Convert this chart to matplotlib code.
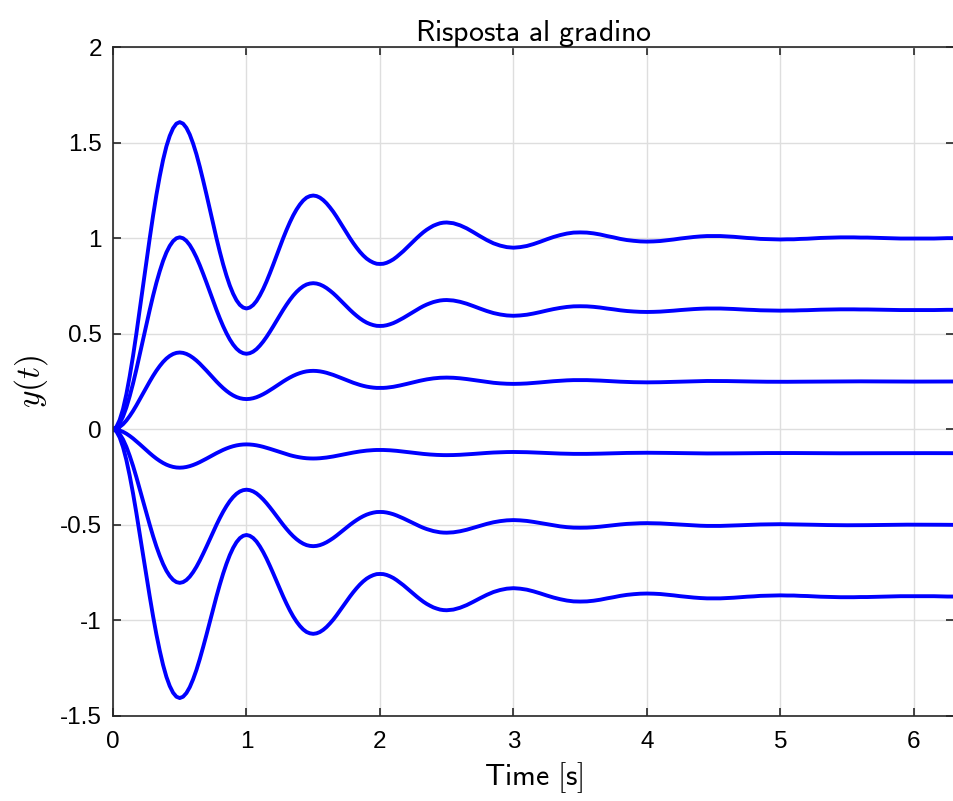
import numpy as np
import matplotlib
matplotlib.use("Agg")
import matplotlib.pyplot as plt

# Base (unit final value) step response.
# First part sampled every 0.025 s (0 .. 2.5 s), the rest every 0.05 s (2.55 .. 6.3 s).
fine_step = 0.025
fine_response = [
    0.000, 0.012, 0.049, 0.106, 0.183, 0.277, 0.383, 0.500, 0.623, 0.750,
    0.876, 0.999, 1.117, 1.226, 1.323, 1.409, 1.480, 1.535, 1.575, 1.599,
    1.607, 1.599, 1.577, 1.542, 1.495, 1.439, 1.374, 1.303, 1.229, 1.152,
    1.075, 1.000, 0.929, 0.863, 0.804, 0.752, 0.709, 0.675, 0.651, 0.637,
    0.632, 0.637, 0.650, 0.671, 0.700, 0.734, 0.773, 0.816, 0.861, 0.908,
    0.954, 1.000, 1.043, 1.083, 1.119, 1.150, 1.176, 1.197, 1.212, 1.220,
    1.223, 1.220, 1.212, 1.199, 1.182, 1.161, 1.138, 1.112, 1.084, 1.056,
    1.028, 1.000, 0.974, 0.950, 0.928, 0.909, 0.893, 0.881, 0.872, 0.866,
    0.865, 0.866, 0.871, 0.879, 0.889, 0.902, 0.917, 0.932, 0.949, 0.966,
    0.983, 1.000, 1.016, 1.031, 1.044, 1.055, 1.065, 1.072, 1.078, 1.081,
    1.082,
]
coarse_step = 0.05
coarse_response = [
    1.078, 1.067, 1.051, 1.031, 1.010, 0.990, 0.973, 0.961, 0.953,
    0.950, 0.953, 0.959, 0.969, 0.981, 0.994, 1.006, 1.016, 1.024, 1.029,
    1.030, 1.029, 1.025, 1.019, 1.011, 1.004, 0.996, 0.990, 0.986, 0.983,
    0.982, 0.983, 0.985, 0.989, 0.993, 0.998, 1.002, 1.006, 1.009, 1.011,
    1.011, 1.011, 1.009, 1.007, 1.004, 1.001, 0.999, 0.996, 0.995, 0.994,
    0.993, 0.994, 0.994, 0.996, 0.997, 0.999, 1.001, 1.002, 1.003, 1.004,
    1.004, 1.004, 1.003, 1.003, 1.002, 1.001, 1.000, 0.999, 0.998, 0.998,
    0.998, 0.998, 0.998, 0.998, 0.999, 1.000, 1.000,
]
# final values of the six curves
gains = [1.0, 0.625, 0.25, -0.125, -0.5, -0.875]

x_ticks = [0, 1, 2, 3, 4, 5, 6]
y_ticks = [-1.5, -1, -0.5, 0, 0.5, 1, 1.5, 2]
y_ticklabels = ["-1.5", "-1", "-0.5", "0", "0.5", "1", "1.5", "2"]

plt.rcParams['font.family'] = ['Liberation Sans', 'DejaVu Sans']
plt.rcParams['mathtext.fontset'] = 'cm'

t_fine = np.arange(len(fine_response)) * fine_step
t_coarse = t_fine[-1] + (np.arange(len(coarse_response)) + 1) * coarse_step
t = np.concatenate([t_fine, t_coarse])
base = np.array(fine_response + coarse_response)

fig = plt.figure(figsize=(9.54, 8.01), dpi=100)
ax = fig.add_axes([113 / 954, 85 / 801, 841 / 954, 669 / 801])

for g in gains:
    ax.plot(t, g * base, color=(0, 0, 1), lw=2.8,
            solid_capstyle='round', solid_joinstyle='round')

ax.set_xlim(0, 6.3)
ax.set_ylim(-1.5, 2)
ax.set_xticks(x_ticks)
ax.set_xticklabels([str(v) for v in x_ticks])
ax.set_yticks(y_ticks)
ax.set_yticklabels(y_ticklabels)
ax.grid(True, color='#dedede', lw=1.0)
ax.set_axisbelow(True)

ax.tick_params(direction='in', length=6, width=1.2, top=True, right=True,
               labelsize=17.5, colors='#262626', labelcolor='black')
ax.tick_params(axis='x', pad=11)
ax.tick_params(axis='y', pad=8)
for s in ax.spines.values():
    s.set_color('#262626')
    s.set_linewidth(1.2)

ax.set_title(r'$\mathsf{Risposta\ al\ gradino}$', fontsize=21.5, pad=4)
ax.set_xlabel(r'$\mathsf{Time\ [s]}$', fontsize=21.5, labelpad=5)
ax.set_ylabel(r'$y(t)$', fontsize=24, labelpad=7)

fig.savefig('out.png', dpi=100)
